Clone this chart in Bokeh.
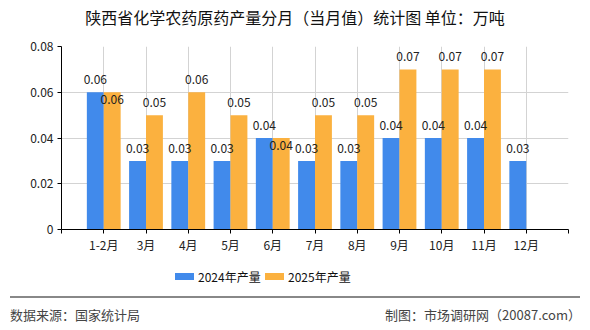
from bokeh.plotting import figure
from bokeh.layouts import column
from bokeh.models import (ColumnDataSource, FixedTicker, Range1d, LabelSet, Div)
from bokeh.core.properties import value
from bokeh.embed import file_html
from bokeh.resources import INLINE
import numpy as np

categories = ["1-2月", "3月", "4月", "5月", "6月", "7月", "8月", "9月", "10月", "11月", "12月"]
v2024 = [0.06, 0.03, 0.03, 0.03, 0.04, 0.03, 0.03, 0.04, 0.04, 0.04, 0.03]
v2025 = [0.06, 0.05, 0.06, 0.05, 0.04, 0.05, 0.05, 0.07, 0.07, 0.07, None]
y_ticks = [0, 0.02, 0.04, 0.06, 0.08]
y_tick_labels = ["0", "0.02", "0.04", "0.06", "0.08"]
series_names = ["2024年产量", "2025年产量"]
title_text = "陕西省化学农药原药产量分月（当月值）统计图 单位：万吨"
source_text = "数据来源：国家统计局"
credit_text = "制图：市场调研网（20087.com）"

BLUE = "#418aeb"
ORANGE = "#fbb13f"
FONT = "Noto Sans CJK SC"
W = 590

# ---- header (title)
head = Div(width=W, height=36, margin=0, text=(
    f'<div style="width:{W}px;height:36px;line-height:34px;text-align:center;'
    f"font-family:'{FONT}';font-size:16px;color:#111111;white-space:nowrap;\">"
    f'{title_text}</div>'))

# ---- main chart
n = len(categories)
xs = np.arange(1, n + 1)

p = figure(width=W, height=222, output_backend="svg", toolbar_location=None,
           x_range=Range1d(0, n + 1), y_range=Range1d(0, 0.08),
           min_border_left=61, min_border_right=22, min_border_top=10, min_border_bottom=29,
           margin=0)
p.outline_line_color = None

b_src = ColumnDataSource(dict(x=xs - 0.2, top=v2024, lab=[f"{v:.2f}" for v in v2024]))
o_idx = [i for i, v in enumerate(v2025) if v is not None]
o_src = ColumnDataSource(dict(
    x=[xs[i] + 0.2 for i in o_idx],
    top=[v2025[i] for i in o_idx],
    lab=[f"{v2025[i]:.2f}" for i in o_idx],
    off=[-12 if v2025[i] == v2024[i] else 8 for i in o_idx],
))

p.vbar(x="x", top="top", width=0.4, source=b_src, fill_color=BLUE, line_color=None)
p.vbar(x="x", top="top", width=0.4, source=o_src, fill_color=ORANGE, line_color=None)

p.add_layout(LabelSet(x="x", y="top", text="lab", source=b_src, text_align="center",
                      text_baseline="bottom", y_offset=8, text_font=value(FONT),
                      text_font_size="12px", text_color="#222222"))
p.add_layout(LabelSet(x="x", y="top", text="lab", source=o_src, text_align="center",
                      text_baseline="bottom", y_offset="off", text_font=value(FONT),
                      text_font_size="12px", text_color="#222222"))

p.xaxis.ticker = FixedTicker(ticks=list(range(0, n + 2)))
overrides = {0: "", n + 1: ""}
for i, c in enumerate(categories):
    overrides[i + 1] = c
p.xaxis.major_label_overrides = overrides
p.yaxis.ticker = FixedTicker(ticks=y_ticks)
p.yaxis.major_label_overrides = {t: l for t, l in zip(y_ticks, y_tick_labels)}
for ax in (p.xaxis[0], p.yaxis[0]):
    ax.axis_line_color = "black"
    ax.major_tick_line_color = "black"
    ax.major_tick_out = 4
    ax.major_tick_in = 0
    ax.minor_tick_line_color = None
    ax.major_label_text_font = FONT
    ax.major_label_text_font_size = "12px"
    ax.major_label_text_color = "#222222"
p.xaxis.major_label_standoff = 2
p.yaxis.major_label_standoff = 4

p.xgrid.ticker = FixedTicker(ticks=list(range(0, n + 2)))
p.ygrid.ticker = FixedTicker(ticks=y_ticks)
p.xgrid.grid_line_color = "#d3d3d3"
p.ygrid.grid_line_color = "#d3d3d3"

# ---- footer (legend, rule, source)
txt = f"position:absolute;font-family:'{FONT}';white-space:nowrap;"
foot_html = (
    f'<div style="position:relative;width:{W}px;height:72px;">'
    f'<div style="position:absolute;left:175px;top:15px;width:19px;height:7px;background:{BLUE};"></div>'
    f'<div style="{txt}left:198px;top:10px;line-height:18px;font-size:12px;color:#111;">{series_names[0]}</div>'
    f'<div style="position:absolute;left:265px;top:15px;width:19px;height:7px;background:{ORANGE};"></div>'
    f'<div style="{txt}left:288px;top:10px;line-height:18px;font-size:12px;color:#111;">{series_names[1]}</div>'
    f'<div style="position:absolute;left:10px;top:38px;width:570px;height:0;border-top:2px solid #888888;"></div>'
    f'<div style="{txt}left:10px;top:48px;line-height:18px;font-size:13px;color:#444444;">{source_text}</div>'
    f'<div style="{txt}right:9px;top:48px;line-height:18px;font-size:13px;color:#444444;">{credit_text}</div>'
    f'</div>'
)
foot = Div(width=W, height=72, margin=0, text=foot_html)

layout = column(head, p, foot, spacing=0)
open("out.html", "w").write(file_html(layout, INLINE))
